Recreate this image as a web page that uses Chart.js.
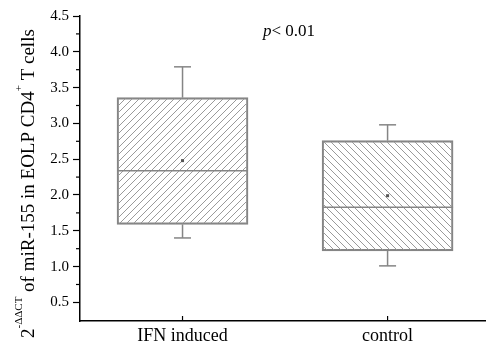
<!DOCTYPE html>
<html>
<head>
<meta charset="utf-8">
<script src="https://cdn.jsdelivr.net/npm/chart.js@4"></script>
<style>
  body { margin: 0; background: #fff; }
  #wrap { width: 486px; height: 346px; }
</style>
</head>
<body>
<div id="wrap"><canvas id="boxChart" width="486" height="346"></canvas></div>
<script>
// data
const groups = ['IFN induced', 'control'];
const groupPos = [1, 2];
const whiskerLow = [1.40, 1.01];
const q1 = [1.59, 1.22];
const median = [2.34, 1.83];
const q3 = [3.36, 2.76];
const whiskerHigh = [3.79, 2.98];
const means = [2.48, 1.99];
const yMajorTicks = [0.5, 1.0, 1.5, 2.0, 2.5, 3.0, 3.5, 4.0, 4.5];
const yMinorTicks = [0.75, 1.25, 1.75, 2.25, 2.75, 3.25, 3.75, 4.25];
const pText = '< 0.01';

const serif = "'Liberation Serif', 'DejaVu Serif', serif";
const boxGray = '#858585';

const canvas = document.getElementById('boxChart');
const mainCtx = canvas.getContext('2d');

function makeHatch(dir) {
  const s = 7;
  const c = document.createElement('canvas');
  c.width = s; c.height = s;
  const g = c.getContext('2d');
  g.strokeStyle = '#9a9a9a';
  g.lineWidth = 1;
  g.beginPath();
  if (dir > 0) {
    g.moveTo(-1, s + 1); g.lineTo(s + 1, -1);
    g.moveTo(-1, 1); g.lineTo(1, -1);
    g.moveTo(s - 1, s + 1); g.lineTo(s + 1, s - 1);
  } else {
    g.moveTo(-1, -1); g.lineTo(s + 1, s + 1);
    g.moveTo(s - 1, -1); g.lineTo(s + 1, 1);
    g.moveTo(-1, s - 1); g.lineTo(1, s + 1);
  }
  g.stroke();
  return mainCtx.createPattern(c, 'repeat');
}

function line(ctx, x1, y1, x2, y2) {
  ctx.beginPath();
  ctx.moveTo(x1, y1);
  ctx.lineTo(x2, y2);
  ctx.stroke();
}

const boxExtras = {
  id: 'boxExtras',
  afterDatasetsDraw(chart) {
    const { ctx, scales: { x, y } } = chart;
    const bars = chart.getDatasetMeta(0).data;
    const capHalf = 8.5;
    ctx.save();
    ctx.strokeStyle = boxGray;
    ctx.lineWidth = 1.5;
    groupPos.forEach((p, i) => {
      const cx = x.getPixelForValue(p);
      const half = bars[i].width / 2;
      line(ctx, cx - half, y.getPixelForValue(median[i]), cx + half, y.getPixelForValue(median[i]));
      const yHi = y.getPixelForValue(whiskerHigh[i]);
      const yLo = y.getPixelForValue(whiskerLow[i]);
      line(ctx, cx, y.getPixelForValue(q3[i]), cx, yHi);
      line(ctx, cx - capHalf, yHi, cx + capHalf, yHi);
      line(ctx, cx, y.getPixelForValue(q1[i]), cx, yLo);
      line(ctx, cx - capHalf, yLo, cx + capHalf, yLo);
      ctx.fillStyle = '#555';
      const ym = y.getPixelForValue(means[i]);
      ctx.fillRect(cx - 1.5, ym - 1.5, 3, 3);
    });
    ctx.restore();
  },
  afterDraw(chart) {
    const { ctx, chartArea, scales: { x, y } } = chart;
    ctx.save();
    ctx.strokeStyle = '#000';
    ctx.lineWidth = 1.2;
    // inward ticks on the x axis
    groupPos.forEach(p => {
      const px = x.getPixelForValue(p);
      line(ctx, px, chartArea.bottom, px, chartArea.bottom - 5);
    });
    // minor y ticks
    yMinorTicks.forEach(v => {
      const py = y.getPixelForValue(v);
      line(ctx, chartArea.left, py, chartArea.left - 4, py);
    });

    // p value
    ctx.fillStyle = '#000';
    ctx.textBaseline = 'alphabetic';
    ctx.font = 'italic 17px ' + serif;
    ctx.fillText('p', 263, 36);
    const pw = ctx.measureText('p').width;
    ctx.font = '17px ' + serif;
    ctx.fillText(pText, 263 + pw, 36);

    // y axis title with superscripts
    const parts = [
      { t: '2', sup: false },
      { t: '-ΔΔCT', sup: true },
      { t: ' of miR-155 in EOLP CD4', sup: false },
      { t: '+', sup: true },
      { t: ' T cells', sup: false }
    ];
    ctx.translate(34, 338);
    ctx.rotate(-Math.PI / 2);
    let cursor = 0;
    parts.forEach(part => {
      ctx.font = (part.sup ? '11px ' : '19px ') + serif;
      ctx.fillText(part.t, cursor, part.sup ? -12 : 0);
      cursor += ctx.measureText(part.t).width;
    });
    ctx.restore();
  }
};

new Chart(canvas, {
  type: 'bar',
  data: {
    datasets: [{
      data: groupPos.map((p, i) => ({ x: p, y: [q1[i], q3[i]] })),
      backgroundColor: [makeHatch(1), makeHatch(-1)],
      borderColor: boxGray,
      borderWidth: 1.5,
      borderSkipped: false,
      barThickness: 131
    }]
  },
  options: {
    responsive: false,
    animation: false,
    layout: { padding: { top: 16, right: 0, bottom: 0, left: 0 } },
    plugins: {
      legend: { display: false },
      tooltip: { enabled: false }
    },
    scales: {
      x: {
        type: 'linear',
        offset: false,
        min: 0.5,
        max: 2.48,
        afterBuildTicks: scale => {
          scale.ticks = groupPos.map(v => ({ value: v }));
        },
        afterFit: scale => { scale.height = 25; },
        grid: { display: false, drawTicks: false, offset: false },
        border: { display: true, color: '#000', width: 1.5 },
        ticks: {
          color: '#000',
          padding: 4,
          maxRotation: 0,
          font: { family: serif, size: 18 },
          callback: value => groups[groupPos.indexOf(value)]
        }
      },
      y: {
        min: 0.24,
        max: 4.5,
        afterBuildTicks: scale => {
          scale.ticks = yMajorTicks.map(v => ({ value: v }));
        },
        afterFit: scale => { scale.width = 80; },
        grid: { drawOnChartArea: false, tickLength: 7, color: '#000', tickWidth: 1.2 },
        border: { display: true, color: '#000', width: 1.5 },
        ticks: {
          color: '#000',
          padding: 4,
          font: { family: serif, size: 15 },
          callback: value => value.toFixed(1)
        }
      }
    }
  },
  plugins: [boxExtras]
});
</script>
</body>
</html>
